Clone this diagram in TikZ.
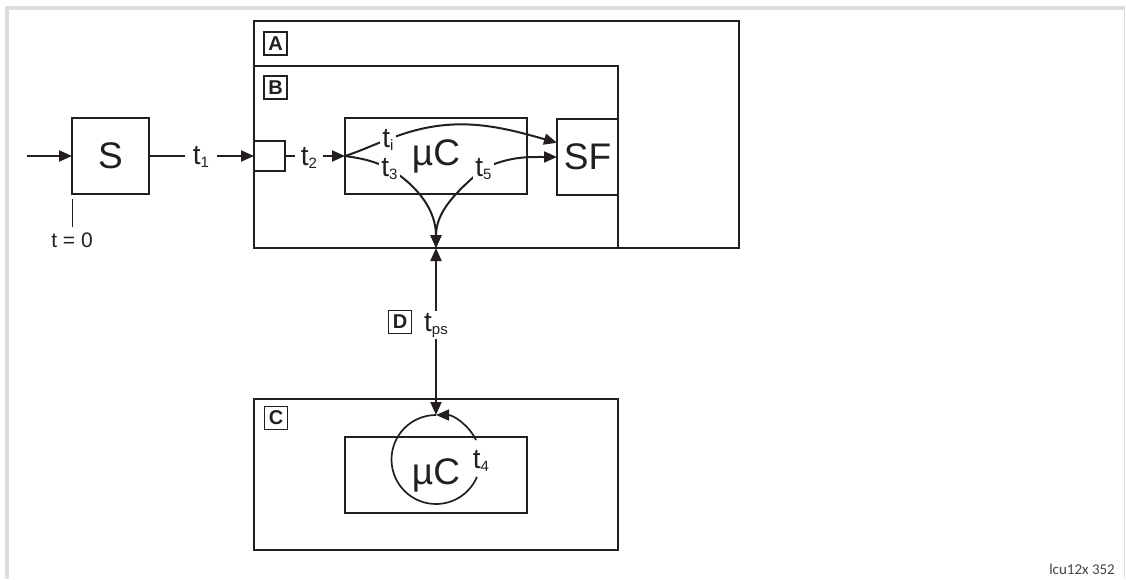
\documentclass[tikz,border=0pt]{standalone}
\usepackage{fontspec}
\setmainfont{Liberation Sans}
\newfontfamily\tagfont{Carlito}
\usetikzlibrary{arrows.meta}
\pgfdeclarelayer{bg}
\pgfsetlayers{bg,main}
\definecolor{ink}{HTML}{231F20}
\definecolor{band}{HTML}{DEDEDE}
\newcommand{\tsb}[1]{{\fontsize{28}{28}\selectfont t}\raisebox{-3pt}{\fontsize{15}{15}\selectfont #1}}
\begin{document}
\begin{tikzpicture}[x=1pt,y=1pt,
  thickbox/.style={draw=ink, line width=2.8pt, inner sep=0pt, outer sep=0pt},
  thinbox/.style={draw=ink, line width=1.4pt, inner sep=0pt, outer sep=0pt},
  boxtag/.style={draw=ink, line width=1.1pt, minimum size=23pt, inner sep=0pt, font=\fontsize{20}{20}\selectfont\bfseries, text=ink},
  bigtext/.style={font=\fontsize{37}{37}\selectfont, text=ink},
  tlab/.style={fill=white, inner xsep=2pt, inner ysep=2pt, text=ink, anchor=base},
  wire/.style={draw=ink, line width=2pt},
  myarrow/.style={-{Triangle[length=13pt,width=11pt]}},
]
\useasboundingbox (0,0) rectangle (1126,-579);
% page frame
\fill[band] (5,-6) rectangle (1125,-10);
\fill[band] (5,-10) rectangle (9,-579);
\draw[band, line width=1pt] (1124.5,-10) -- (1124.5,-579);

% block A and B
\node[thickbox, minimum width=485pt, minimum height=227pt] (A) at (496.5,-134.5) {};
\node[inner sep=0pt, outer sep=0pt, minimum width=364pt, minimum height=182pt] (B) at (436,-157) {};
\draw[ink, line width=1.4pt] (B.north west) -- (B.north east) -- (B.south east);
\node[boxtag] (tagA) at (275.5,-43.5) {A};
\node[boxtag] (tagB) at (275.5,-87.5) {B};

% S
\node[thickbox, bigtext, minimum width=77pt, minimum height=76pt] (S) at (110.5,-156) {S};
\coordinate (src) at (27,-156);
\node[font=\fontsize{21}{21}\selectfont, text=ink, anchor=base, inner ysep=5pt] (t0) at (72,-247) {t = 0};
\draw[ink, line width=1pt] ([yshift=-5pt]S.south west) -- (t0.north);

% inner blocks
\node[thinbox, minimum width=31pt, minimum height=30pt] (port) at (269.5,-156) {};
\node[thinbox, bigtext, minimum width=182pt, minimum height=76pt] (mcu) at (436,-156) {µC};
\node[thinbox, bigtext, minimum width=61pt, minimum height=76pt] (SF) at (587.5,-157) {SF};

% time labels
\node[tlab, inner xsep=8pt] (t1) at (201,-164) {\tsb{1}};
\node[tlab, inner xsep=6pt] (t2) at (309,-165) {\tsb{2}};
\node[tlab] (ti) at (388,-147) {\tsb{i}};
\node[tlab] (t3) at (389.5,-176) {\tsb{3}};
\node[tlab] (t5) at (483.5,-176) {\tsb{5}};
\node[tlab] (tps) at (436,-331) {\tsb{ps}};
\node[boxtag] (tagD) at (400,-322) {D};

% block C
\node[thickbox, minimum width=364pt, minimum height=151pt] (C) at (436,-474.5) {};
\node[boxtag] (tagC) at (276,-418) {C};
\node[thinbox, bigtext, minimum width=182pt, minimum height=76pt] (mcu2) at (436,-475) {µC};
\node[circle, inner sep=0pt, outer sep=0pt, minimum size=89pt] (ring) at (436,-459.5) {};
\node[text=ink, anchor=base, inner sep=0pt] (t4) at (481,-468) {\tsb{4}};
\draw[wire, line width=1.7pt, myarrow] (ring.26) arc[start angle=26, end angle=90, radius=44.5pt];
\draw[wire, line width=1.7pt] (ring.north) arc[start angle=90, end angle=337, radius=44.5pt];

\node[anchor=base east, inner sep=0pt, font=\tagfont\fontsize{15}{15}\selectfont, text=ink!85] (ref) at (1115,-574) {lcu12x 352};

% connectors
\begin{pgfonlayer}{bg}
\draw[wire, myarrow] (src) -- (S.west);
\draw[wire, myarrow] (S.east) -- (port.west);
\draw[wire, myarrow] (port.east) -- (mcu.west);
\draw[wire] (mcu.west) to[out=18,in=200] (ti.center);
\draw[wire, myarrow] (ti.center) to[out=22,in=164] (SF.155);
\draw[wire] (mcu.west) to[out=-8,in=155] (t3.center);
\draw[wire, myarrow] (t3.center) to[out=-32,in=90] (B.south);
\draw[wire, myarrow] (t5.center) to[out=25,in=180] (SF.west);
\draw[wire, myarrow] (t5.center) to[out=220,in=90] (B.south);
\draw[wire, myarrow] (tps.center) -- (B.south);
\draw[wire, myarrow] (tps.center) -- (ring.north);
\end{pgfonlayer}
\end{tikzpicture}
\end{document}
